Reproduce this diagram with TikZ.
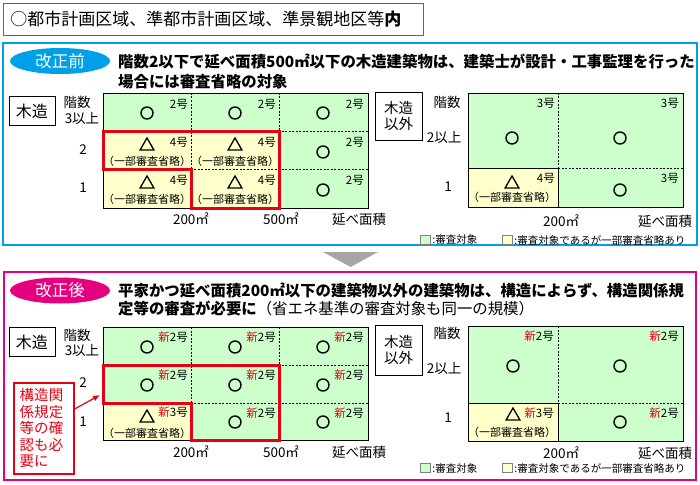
\documentclass[tikz,border=0pt]{standalone}
\usepackage{fontspec}
\setmainfont{Noto Sans CJK JP}
\usetikzlibrary{arrows.meta,shapes.geometric}

\definecolor{blaufarbe}{RGB}{0,160,233}
\definecolor{rosafarbe}{RGB}{228,0,127}
\definecolor{rotlinie}{RGB}{230,0,18}
\definecolor{feldgruen}{RGB}{204,255,204}
\definecolor{feldgelb}{RGB}{255,255,204}
\definecolor{graufarbe}{RGB}{166,166,166}

\tikzset{
  raster/.style={dash pattern=on 2pt off 1.5pt, line width=0.5pt},
  rahmen/.style={line width=0.7pt},
  rotrand/.style={draw=rotlinie, line width=3pt, line join=miter},
  nummer/.style={anchor=north east, inner sep=0pt, font=\fontsize{11.5}{12}\selectfont},
  anm/.style={inner sep=0pt, font=\fontsize{11}{12}\selectfont},
  kreis/.style={circle, draw, line width=1.4pt, minimum size=12pt, inner sep=0pt},
  dreieck/.style={regular polygon, regular polygon sides=3, draw, line width=1.3pt,
    minimum size=16pt, inner sep=0pt},
  beschr/.style={inner sep=0pt, font=\fontsize{13.5}{14}\selectfont},
  kopf/.style={anchor=west, inner sep=0pt, font=\fontsize{15.4}{16}\selectfont\bfseries},
  etikett/.style={ellipse, minimum width=100pt, minimum height=26pt, inner sep=0pt,
    text=white, font=\fontsize{16.5}{17}\selectfont},
  legkasten/.style={draw=gray, line width=0.5pt, minimum width=10pt, minimum height=9pt, inner sep=0pt},
  legtext/.style={anchor=west, inner sep=0pt, font=\fontsize{10.5}{11}\selectfont},
}
\newcommand{\neu}{\textcolor{rotlinie}{新}}

\begin{document}
\begin{tikzpicture}[x=1pt,y=-1pt]
	\useasboundingbox (0,0) rectangle (700,484);
	% Titel
	\node[draw=gray!80!black, rahmen, anchor=north west, minimum height=32pt, text width=406pt,
	  inner xsep=7pt, align=left, font=\fontsize{17}{18}\selectfont] (titel) at (3,3)
	  {○都市計画区域、準都市計画区域、準景観地区等\textbf{内}};
	% Rahmen der beiden Teile
	\draw[blaufarbe, line width=2pt] (3,43) rectangle (697,245);
	\draw[rosafarbe, line width=2pt] (4,272) rectangle (696,480);
	\fill[graufarbe] (323,252) -- (378,252) -- (350.5,267) -- cycle;

	%%%%%%%%%% vorher %%%%%%%%%%
	\node[etikett, fill=blaufarbe] (vorher) at (60,61) {改正前};
	\node[kopf] (kopfA1) at (118,62) {階数2以下で延べ面積500㎡以下の木造建築物は、建築士が設計・工事監理を行った};
	\node[kopf] (kopfA2) at (118,82) {場合には審査省略の対象};
	% Holz: Felder
	\fill[feldgruen] (103,93) rectangle (368,208);
	\fill[feldgelb] (103,131) rectangle (279,208);
	\draw[raster] (191,93) -- (191,208) (279,93) -- (279,208) (103,131) -- (368,131) (103,169) -- (368,169);
	\draw[rahmen] (103,93) rectangle (368,208);
	\draw[rotrand] (103,131) -- (279,131) -- (279,208) -- (191,208) -- (191,169) -- (103,169) -- cycle;
	\foreach \cx/\cy/\ty [count=\i] in {147/113/93, 235/113/93, 323/113/93, 323/152/131, 323/190/169}
	  {\node[kreis] (kreisA\i) at (\cx,\cy) {};
	   \node[nummer] (nrA\i) at (\cx+41,\ty+6) {2号};}
	\foreach \cx/\ty [count=\i] in {147/131, 235/131, 147/169, 235/169}
	  {\node[dreieck] (dreieckA\i) at (\cx,\ty+15) {};
	   \node[nummer] (nrgA\i) at (\cx+41,\ty+6) {4号};
	   \node[anm] (anmA\i) at (\cx,\ty+30) {（一部審査省略）};}
	% Holz: Beschriftung
	\node[draw, rahmen, minimum width=46pt, minimum height=29pt, font=\fontsize{16}{17}\selectfont] (holzA) at (32,111) {木造};
	\node[beschr] (stockA) at (77,102) {階数};
	\node[beschr] (stockA3) at (82,118) {3以上};
	\node[beschr] (stockA2) at (83,150) {2};
	\node[beschr] (stockA1) at (83,188) {1};
	\node[beschr] (flA200) at (191,219) {200㎡};
	\node[beschr] (flA500) at (281,219) {500㎡};
	\node[beschr] (flA) at (359,219) {延べ面積};
	% sonstige: Felder
	\fill[feldgruen] (468,93) rectangle (683,207);
	\fill[feldgelb] (468,168) rectangle (558,207);
	\draw[raster] (558,93) -- (558,168) (558,168) -- (683,168);
	\draw[rahmen] (468,168) rectangle (558,207);
	\draw[rahmen] (468,93) rectangle (683,207);
	\foreach \cx/\cy/\rx/\ty [count=\i] in {512/138/555/93, 620/138/679/93, 620/190/679/168}
	  {\node[kreis] (kreisB\i) at (\cx,\cy) {};
	   \node[nummer] (nrB\i) at (\rx,\ty+5) {3号};}
	\node[dreieck] (dreieckB) at (512,184) {};
	\node[nummer] (nrgB) at (555,173) {4号};
	\node[anm] (anmB) at (512,197) {（一部審査省略）};
	% sonstige: Beschriftung
	\node[draw, rahmen, minimum width=47pt, minimum height=48pt, align=center,
	  font=\fontsize{14.5}{15.5}\selectfont] (sonstA) at (398.5,116) {木造\\以外};
	\node[beschr] (stockB) at (447,102) {階数};
	\node[beschr] (stockB2) at (444,137) {2以上};
	\node[beschr] (stockB1) at (448,187) {1};
	\node[beschr] (flB200) at (561,221) {200㎡};
	\node[beschr] (flB) at (665,221) {延べ面積};
	% Legende
	\node[legkasten, fill=feldgruen] (legA1) at (425,240) {};
	\node[legtext] (legA1t) at ([xshift=2pt]legA1.east) {:審査対象};
	\node[legkasten, fill=feldgelb] (legA2) at (507,240) {};
	\node[legtext] (legA2t) at ([xshift=2pt]legA2.east) {:審査対象であるが一部審査省略あり};

	%%%%%%%%%% nachher %%%%%%%%%%
	\node[etikett, fill=rosafarbe] (nachher) at (60,290.5) {改正後};
	\node[kopf] (kopfC1) at (118,291) {平家かつ延べ面積200㎡以下の建築物以外の建築物は、構造によらず、構造関係規};
	\node[kopf] (kopfC2) at (118,309) {定等の審査が必要に{\mdseries （省エネ基準の審査対象も同一の規模）}};
	% Holz: Felder
	\fill[feldgruen] (103,327) rectangle (368,440);
	\fill[feldgelb] (103,403) rectangle (191,440);
	\draw[raster] (191,327) -- (191,440) (279,327) -- (279,440) (103,365) -- (368,365) (103,403) -- (368,403);
	\draw[rahmen] (103,327) rectangle (368,440);
	\draw[rotrand] (103,365) -- (279,365) -- (279,440) -- (191,440) -- (191,403) -- (103,403) -- cycle;
	\foreach \cx/\cy/\ty [count=\i] in {147/347/327, 235/347/327, 323/347/327, 147/385/365,
	    235/385/365, 323/385/365, 235/422/403, 323/422/403}
	  {\node[kreis] (kreisC\i) at (\cx,\cy) {};
	   \node[nummer] (nrC\i) at (\cx+41,\ty+5) {\neu 2号};}
	\node[dreieck] (dreieckC) at (147,418) {};
	\node[nummer] (nrgC) at (188,407) {\neu 3号};
	\node[anm] (anmC) at (147,433) {（一部審査省略）};
	% Holz: Beschriftung
	\node[draw, rahmen, minimum width=46pt, minimum height=29pt, font=\fontsize{16}{17}\selectfont] (holzC) at (32,342) {木造};
	\node[beschr] (stockC) at (77,335) {階数};
	\node[beschr] (stockC3) at (82,350) {3以上};
	\node[beschr] (stockC2) at (83,383) {2};
	\node[beschr] (stockC1) at (83,422) {1};
	\node[beschr] (flC200) at (191,452) {200㎡};
	\node[beschr] (flC500) at (281,452) {500㎡};
	\node[beschr] (flC) at (359,452) {延べ面積};
	% Hinweis mit Pfeil
	\node[draw=rotlinie, line width=1.5pt, fill=white, anchor=north west, minimum width=60pt,
	  minimum height=91pt, text width=48pt, align=left, text=rotlinie,
	  font=\fontsize{14.5}{16.5}\selectfont] (hinweis) at (13,382) {構造関\\係規定\\等の確\\認も必\\要に};
	\coordinate (pfeilziel) at (100,395);
	\draw[rotlinie, line width=1.2pt, -{Latex[length=7pt,width=6pt]}] (hinweis.32) -- (pfeilziel);
	% sonstige: Felder
	\fill[feldgruen] (468,326) rectangle (683,441);
	\fill[feldgelb] (468,403) rectangle (558,441);
	\draw[raster] (558,326) -- (558,403) (558,403) -- (683,403);
	\draw[rahmen] (468,403) rectangle (558,441);
	\draw[rahmen] (468,326) rectangle (683,441);
	\foreach \cx/\cy/\rx/\ty [count=\i] in {513/366/554/326, 620/366/679/326, 620/422/679/403}
	  {\node[kreis] (kreisD\i) at (\cx,\cy) {};
	   \node[nummer] (nrD\i) at (\rx,\ty+5) {\neu 2号};}
	\node[dreieck] (dreieckD) at (513,416) {};
	\node[nummer] (nrgD) at (554,408) {\neu 3号};
	\node[anm] (anmD) at (512,432) {（一部審査省略）};
	% sonstige: Beschriftung
	\node[draw, rahmen, minimum width=47pt, minimum height=50pt, align=center,
	  font=\fontsize{14.5}{15.5}\selectfont] (sonstC) at (398.5,350) {木造\\以外};
	\node[beschr] (stockD) at (447,333) {階数};
	\node[beschr] (stockD2) at (444,368) {2以上};
	\node[beschr] (stockD1) at (448,418) {1};
	\node[beschr] (flD200) at (561,453) {200㎡};
	\node[beschr] (flD) at (665,453) {延べ面積};
	% Legende
	\node[legkasten, fill=feldgruen] (legC1) at (425,468) {};
	\node[legtext] (legC1t) at ([xshift=2pt]legC1.east) {:審査対象};
	\node[legkasten, fill=feldgelb] (legC2) at (507,468) {};
	\node[legtext] (legC2t) at ([xshift=2pt]legC2.east) {:審査対象であるが一部審査省略あり};
\end{tikzpicture}
\end{document}
